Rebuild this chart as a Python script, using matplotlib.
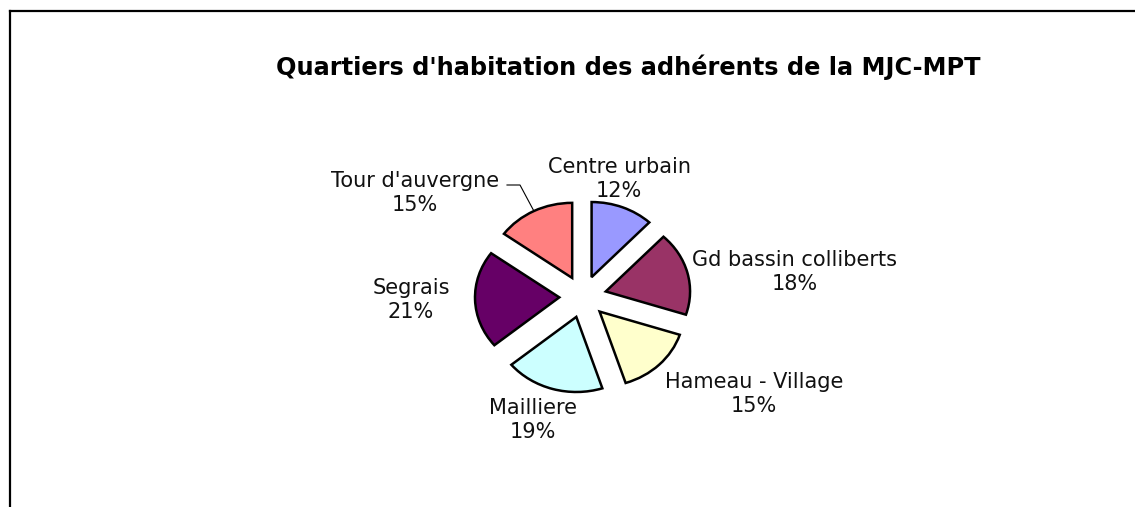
import matplotlib
matplotlib.use("Agg")
import matplotlib.pyplot as plt
from matplotlib.lines import Line2D
import numpy as np

categories = ["Centre urbain", "Gd bassin colliberts", "Hameau - Village",
              "Mailliere", "Segrais", "Tour d'auvergne"]
values = [12, 18, 15, 19, 21, 15]
colors = ["#9999FF", "#993366", "#FFFFCC", "#CCFFFF", "#660066", "#FF8080"]
title = "Quartiers d'habitation des adhérents de la MJC-MPT"

# label centres in pixels (layout)
label_pos = [(619, 179), (795, 272), (754, 394), (533, 420), (411, 300), (415, 193)]

W, H = 1135, 507
fig = plt.figure(figsize=(W / 100, H / 100), dpi=100)
fig.patch.set_facecolor("white")

plt.rcParams['font.family'] = ['DejaVu Sans']

# pie axes, slightly wider than tall like the original
sx, sy = 84.3, 75.1
cx, cy = 582.9, 296.7
lim = 2.5
axw, axh = 2 * lim * sx, 2 * lim * sy
ax = fig.add_axes([(cx - axw / 2) / W, (H - cy - axh / 2) / H, axw / W, axh / H])
explode = [0.28] * len(values)
wedges, _ = ax.pie(values, colors=colors, startangle=90, counterclock=False,
                   explode=explode, radius=1.0,
                   wedgeprops=dict(edgecolor="black", linewidth=1.8))
ax.set_aspect('auto')
ax.set_xlim(-lim, lim)
ax.set_ylim(-lim, lim)
ax.axis('off')

for (lx, ly), cat, v in zip(label_pos, categories, values):
    fig.text(lx / W, 1 - ly / H, f"{cat}\n{v}%", ha="center", va="center",
             fontsize=15, color="#111111", linespacing=1.3)

# leader line for Tour d'auvergne
i = categories.index("Tour d'auvergne")
w = wedges[i]
mid = np.deg2rad((w.theta1 + w.theta2) / 2)
px = 1.28 * np.cos(mid)
py = 1.28 * np.sin(mid)
ex, ey = ax.transData.transform((px, py))
fig.add_artist(Line2D([507 / W, 520 / W, ex / W], [1 - 185 / H, 1 - 185 / H, ey / H],
                      color="black", linewidth=0.8))

fig.text(628 / W, 1 - 67 / H, title, ha="center", va="center",
         fontsize=17.3, fontweight="bold", color="black")

# frame lines
fig.add_artist(Line2D([10 / W, 1.0], [1 - 11 / H, 1 - 11 / H], color="black", linewidth=1.6))
fig.add_artist(Line2D([10 / W, 10 / W], [0, 1 - 11 / H], color="black", linewidth=1.6))

fig.savefig("out.png", dpi=100, facecolor="white")
